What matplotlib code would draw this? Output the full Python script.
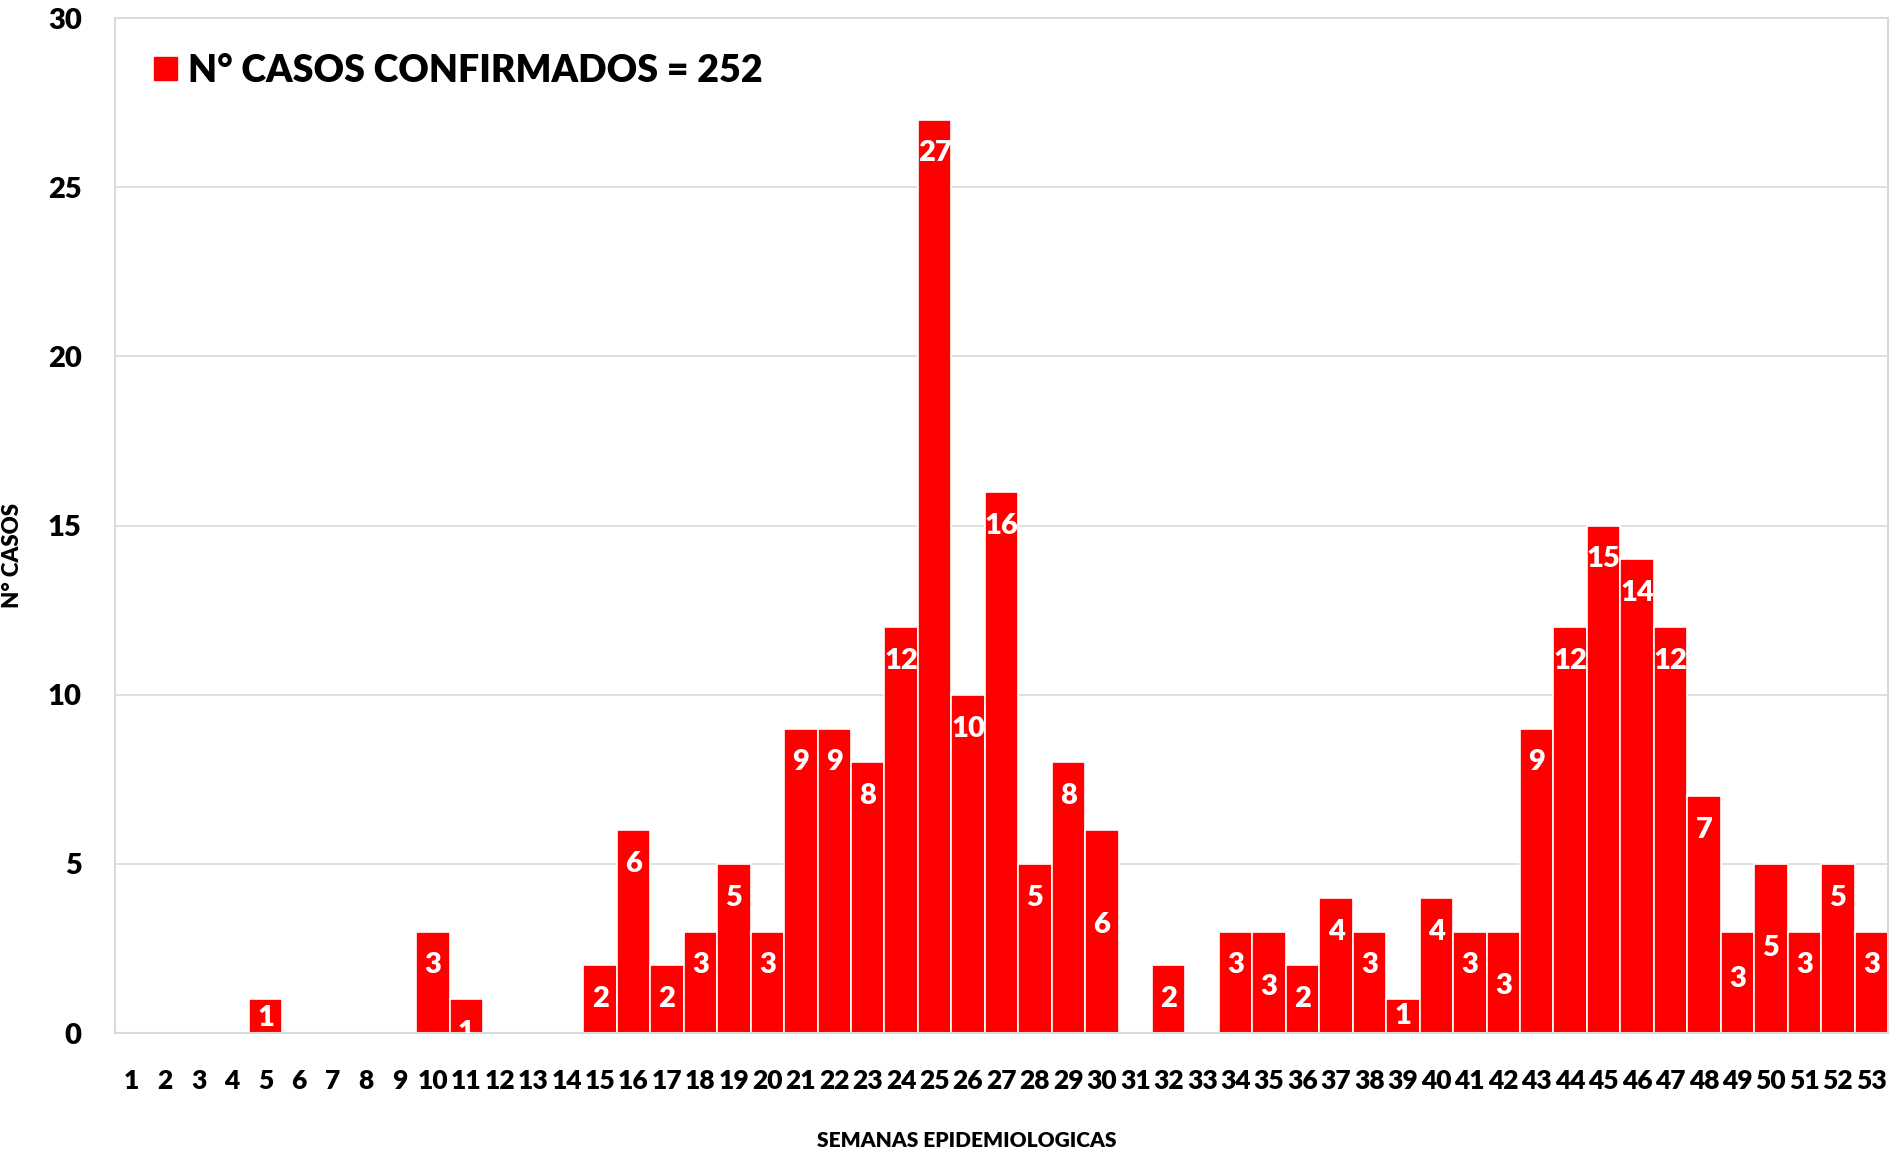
import numpy as np
import matplotlib.pyplot as plt
import matplotlib.patches as mpatches

plt.rcParams['font.family'] = ['Lato', 'DejaVu Sans']
plt.rcParams['font.weight'] = 'heavy'

# casos confirmados por semana epidemiologica
semanas = list(range(1, 54))
casos = [0, 0, 0, 0, 1, 0, 0, 0, 0, 3,
         1, 0, 0, 0, 2, 6, 2, 3, 5, 3,
         9, 9, 8, 12, 27, 10, 16, 5, 8, 6,
         0, 2, 0, 3, 3, 2, 4, 3, 1, 4,
         3, 3, 9, 12, 15, 14, 12, 7, 3, 5,
         3, 5, 3]
total = sum(casos)

# label offsets below bar top (Excel moved a few of them)
label_drop = {5: 0.55, 30: 2.8, 35: 1.65, 39: 0.5, 42: 1.6, 49: 1.4, 50: 2.5}

fig = plt.figure(figsize=(19.04, 11.55), dpi=100)
ax = fig.add_axes([0.0604, 0.1056, 0.9312, 0.8788])

ax.bar(semanas, casos, width=1.0, color='#ff0000', edgecolor='white', linewidth=1.2, zorder=2)

for s, c in zip(semanas, casos):
    if c == 0:
        continue
    d = label_drop.get(s, 1.0)
    ax.text(s, c - d, str(c), ha='center', va='center', color='white',
            fontsize=21, fontweight='heavy', zorder=3, clip_on=True)

ax.set_xlim(0.5, 53.5)
ax.set_ylim(0, 30)
ax.set_yticks(range(0, 31, 5))
ax.set_xticks(semanas)
ax.set_xticklabels([str(s) for s in semanas])
ax.tick_params(axis='x', length=0, pad=26, labelsize=19)
ax.tick_params(axis='y', length=0, pad=24, labelsize=21)
ax.grid(axis='y', color='#d9d9d9', linewidth=1.2, zorder=0)
ax.set_axisbelow(True)
for sp in ax.spines.values():
    sp.set_color('#d9d9d9')
    sp.set_linewidth(1.5)

ax.set_ylabel('N° CASOS', fontsize=16, fontweight='heavy', labelpad=10)
ax.yaxis.set_label_coords(-0.052, 0.47)
fig.text(0.508, 0.004, 'SEMANAS EPIDEMIOLOGICAS', ha='center', va='bottom',
         fontsize=15, fontweight='heavy')

handle = mpatches.Patch(color='#ff0000')
leg = ax.legend([handle], ['N° CASOS CONFIRMADOS = %d' % total], loc='upper left',
                bbox_to_anchor=(0.003, 0.998), frameon=False,
                handlelength=0.6, handleheight=0.6, handletextpad=0.3,
                prop={'weight': 'heavy', 'size': 27})

fig.savefig('out.png', dpi=100)
